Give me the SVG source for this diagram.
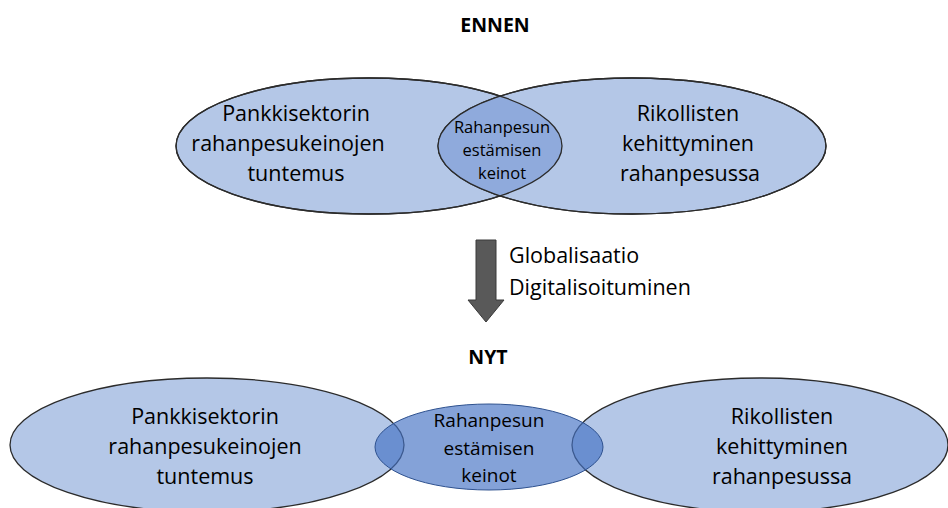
<svg xmlns="http://www.w3.org/2000/svg" width="948" height="508" viewBox="0 0 948 508">
<style>
.t{font-family:"Open Sans","Liberation Sans",sans-serif;fill:#000;text-anchor:middle}
.big{font-size:21.5px}
.sm{font-size:16.5px}
.md{font-size:19px}
.h{font-family:"Open Sans","Liberation Sans",sans-serif;font-weight:bold;font-size:19.5px;text-anchor:middle}
.lab{font-family:"Open Sans","Liberation Sans",sans-serif;font-size:21.5px}
.e{fill:#B4C7E7;stroke:#2b2b2b;stroke-width:1.3}
</style>
<defs>
<clipPath id="cl"><ellipse cx="369" cy="146" rx="193" ry="68"/></clipPath>
</defs>
<text class="h" x="495" y="32">ENNEN</text>
<g id="ennen-left">
<ellipse class="e" cx="369" cy="146" rx="193" ry="68"/>
</g>
<g id="ennen-right">
<ellipse class="e" cx="632" cy="146" rx="194" ry="68"/>
</g>
<g id="ennen-lens">
<ellipse cx="632" cy="146" rx="194" ry="68" fill="#8FAADC" clip-path="url(#cl)"/>
<ellipse cx="369" cy="146" rx="193" ry="68" fill="none" stroke="#2b2b2b" stroke-width="1.3"/>
<ellipse cx="632" cy="146" rx="194" ry="68" fill="none" stroke="#2b2b2b" stroke-width="1.3"/>
</g>
<g id="ennen-texts">
<text class="t big" x="296" y="121">Pankkisektorin</text>
<text class="t big" x="288" y="151">rahanpesukeinojen</text>
<text class="t big" x="296" y="181">tuntemus</text>
<text class="t sm" x="502" y="133">Rahanpesun</text>
<text class="t sm" x="502" y="156">estämisen</text>
<text class="t sm" x="502" y="179">keinot</text>
<text class="t big" x="688" y="121">Rikollisten</text>
<text class="t big" x="688" y="151">kehittyminen</text>
<text class="t big" x="690" y="181">rahanpesussa</text>
</g>
<g id="connectors">
<polygon points="476,240 496,240 496,300 504,300 486,322 468,300 476,300" fill="#595959" stroke="#3a3a3a" stroke-width="1"/>
</g>
<text class="lab" x="509" y="263">Globalisaatio</text>
<text class="lab" x="509" y="295">Digitalisoituminen</text>
<text class="h" x="488" y="364">NYT</text>
<g id="nyt-left">
<ellipse class="e" cx="207" cy="445" rx="197" ry="67"/>
<text class="t big" x="205" y="424">Pankkisektorin</text>
<text class="t big" x="205" y="454">rahanpesukeinojen</text>
<text class="t big" x="205" y="484">tuntemus</text>
</g>
<g id="nyt-right">
<ellipse class="e" cx="760" cy="445" rx="188" ry="67"/>
<text class="t big" x="782" y="424">Rikollisten</text>
<text class="t big" x="782" y="454">kehittyminen</text>
<text class="t big" x="782" y="484">rahanpesussa</text>
</g>
<g id="nyt-middle">
<ellipse cx="489" cy="447" rx="114" ry="43" fill="#4472C4" fill-opacity="0.66" stroke="#2F528F" stroke-width="1"/>
<text class="t md" x="489" y="427">Rahanpesun</text>
<text class="t md" x="489" y="455">estämisen</text>
<text class="t md" x="489" y="482">keinot</text>
</g>
</svg>
